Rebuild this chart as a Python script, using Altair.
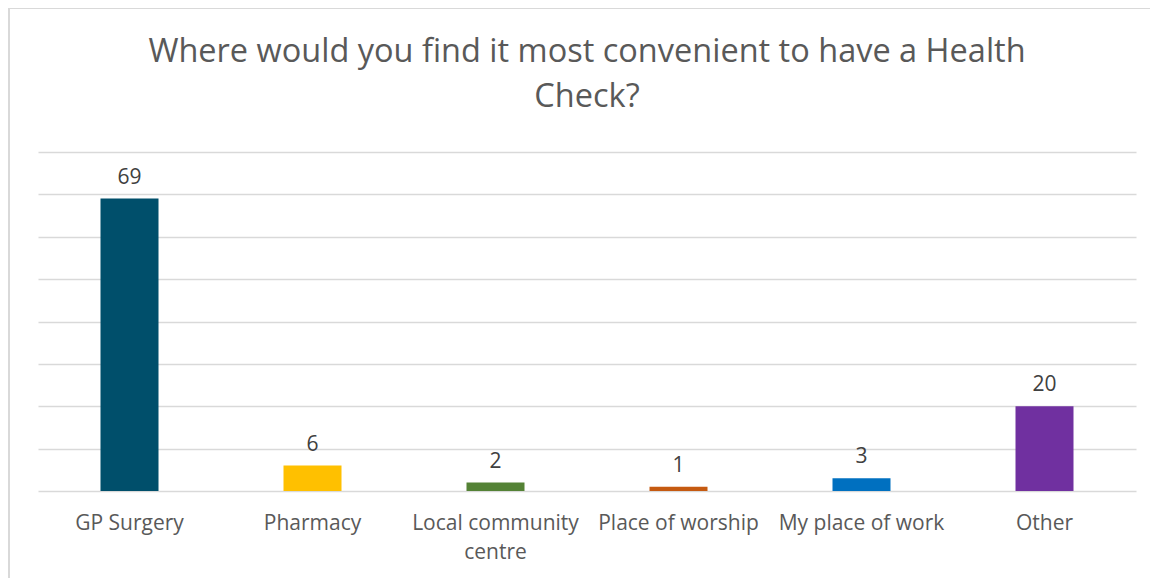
import altair as alt
import pandas as pd

categories = ["GP Surgery", "Pharmacy", "Local community centre", "Place of worship", "My place of work", "Other"]
values = [69, 6, 2, 1, 3, 20]
colors = ["#004F6B", "#FFC000", "#548235", "#C55A11", "#0070C0", "#7030A0"]
title_lines = "Where would you find it most convenient to have a Health\nCheck?"

df = pd.DataFrame({"cat": categories, "val": values, "color": colors})
one = pd.DataFrame({"t": [title_lines]})

FONT = "Open Sans"

x = alt.X("cat:N", sort=categories, title=None,
          scale=alt.Scale(paddingInner=0.0, paddingOuter=0.0),
          axis=alt.Axis(labelAngle=0, labelFontSize=21, labelColor="#595959", labelFont=FONT,
                        labelPadding=21, ticks=False, domain=False, grid=False,
                        labelLineHeight=29, labelBaseline="top",
                        labelExpr="datum.label == 'Local community centre' ? ['Local community', 'centre'] : datum.label"))
y = alt.Y("val:Q", title=None,
          scale=alt.Scale(domain=[0, 80], nice=False),
          axis=alt.Axis(values=[0, 10, 20, 30, 40, 50, 60, 70, 80], labels=False, ticks=False,
                        domain=False, grid=True, gridColor="#D9D9D9", gridWidth=1.5))

bars = alt.Chart(df).mark_bar(size=58).encode(
    x=x, y=y, color=alt.Color("color:N", scale=None)
)
text = alt.Chart(df).mark_text(baseline="bottom", dy=-11, fontSize=21, color="#404040", font=FONT).encode(
    x=alt.X("cat:N", sort=categories), y="val:Q", text="val:Q"
)
border = alt.Chart(one).mark_rect(fill=None, stroke="#D9D9D9", strokeWidth=2).encode(
    x=alt.value(-29), x2=alt.value(1150), y=alt.value(-144), y2=alt.value(460)
)
title = alt.Chart(one).mark_text(fontSize=32.5, font=FONT, color="#595959", baseline="top",
                                 align="center", lineBreak="\n", lineHeight=45).encode(
    x=alt.value(549), y=alt.value(-116), text="t:N"
)

chart = alt.layer(border, bars, text, title).properties(
    width=1098, height=339,
    background="white",
    autosize=alt.AutoSizeParams(type="none"),
    padding={"left": 30, "top": 144, "right": 14, "bottom": 87},
).configure_view(stroke="transparent", strokeWidth=0)

chart.save("out.html", embed_options={"renderer": "svg", "actions": False})
